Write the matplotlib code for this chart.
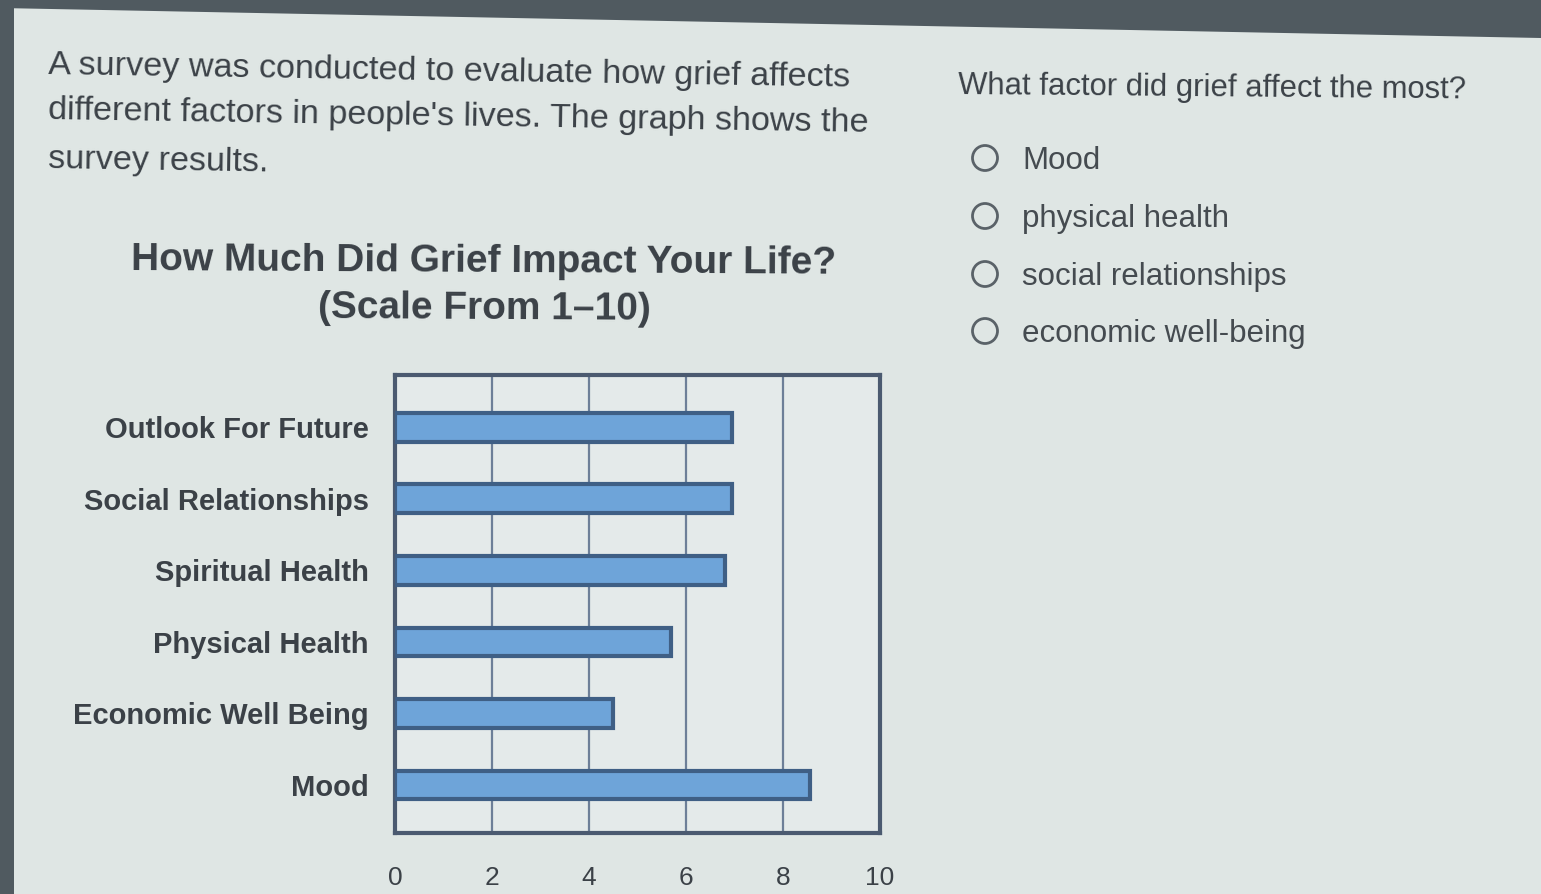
import matplotlib
matplotlib.use("Agg")
import matplotlib.pyplot as plt
from matplotlib.patches import Polygon, Ellipse

categories = ["Mood", "Economic Well Being", "Physical Health",
              "Spiritual Health", "Social Relationships", "Outlook For Future"]
values = [8.55, 4.5, 5.7, 6.8, 6.95, 6.95]
xticks = [0, 2, 4, 6, 8, 10]
intro_lines = ["A survey was conducted to evaluate how grief affects",
               "different factors in people's lives. The graph shows the",
               "survey results."]
title_lines = ["How Much Did Grief Impact Your Life?", "(Scale From 1\u201310)"]
question = "What factor did grief affect the most?"
options = ["Mood", "physical health", "social relationships", "economic well-being"]

plt.rcParams['font.family'] = ['Liberation Sans', 'DejaVu Sans']
bg = "#dfe6e4"
txt = "#3b4147"

W, H = 1541, 894
fig = plt.figure(figsize=(W / 100, H / 100), dpi=100, facecolor=bg)

# photo frame edges (dark screen bezel)
fig.patches.append(Polygon([[0, 1], [1, 1], [1, 1 - 38 / H], [0, 1 - 8 / H]],
                           closed=True, transform=fig.transFigure,
                           facecolor="#505a60", edgecolor="none", zorder=0))
fig.patches.append(Polygon([[0, 0], [14 / W, 0], [14 / W, 1], [0, 1]],
                           closed=True, transform=fig.transFigure,
                           facecolor="#505a60", edgecolor="none", zorder=0))

# intro text
for line, y in zip(intro_lines, [72, 117, 161]):
    fig.text(48 / W, 1 - y / H, line, fontsize=24.6, color=txt, ha="left",
             va="center", rotation=-0.9)

# chart title
for line, y in zip(title_lines, [262, 309]):
    fig.text(484 / W, 1 - y / H, line, fontsize=28, fontweight="bold",
             color=txt, ha="center", va="center", rotation=-0.3)

# question and options
fig.text(958 / W, 1 - 88 / H, question, fontsize=22.3, color=txt, ha="left",
         va="center", rotation=-0.5)
for opt, y in zip(options, [161, 219, 277, 334]):
    fig.text(1022 / W, 1 - y / H, opt, fontsize=22.5, color="#454b50",
             ha="left", va="center")
    fig.patches.append(Ellipse((985 / W, 1 - (y - 3) / H), 25 / W, 25 / H,
                               transform=fig.transFigure, facecolor="none",
                               edgecolor="#5a6268", linewidth=2))

# bar chart
ax = fig.add_axes([395 / W, 1 - 833 / H, 485 / W, 458 / H])
ax.set_facecolor("#e4eaea")
ypos = list(range(len(categories)))
ax.barh(ypos, values, height=0.4, color="#6ea4d9", edgecolor="#3f5f85",
        linewidth=3, zorder=3)
ax.set_xlim(0, 10)
ax.set_ylim(-0.67, 5.73)
ax.set_xticks(xticks)
ax.set_xticklabels([str(t) for t in xticks], fontsize=19, color=txt)
ax.set_yticks(ypos)
ax.set_yticklabels(categories, fontsize=21, fontweight="bold", color=txt)
ax.tick_params(axis="both", length=0)
ax.tick_params(axis="x", pad=24)
ax.tick_params(axis="y", pad=19)
ax.grid(axis="x", color="#6d7f98", linewidth=1.6, zorder=1)
for s in ax.spines.values():
    s.set_color("#4b5a70")
    s.set_linewidth(3)

fig.savefig("out.png", dpi=100, facecolor=bg)
